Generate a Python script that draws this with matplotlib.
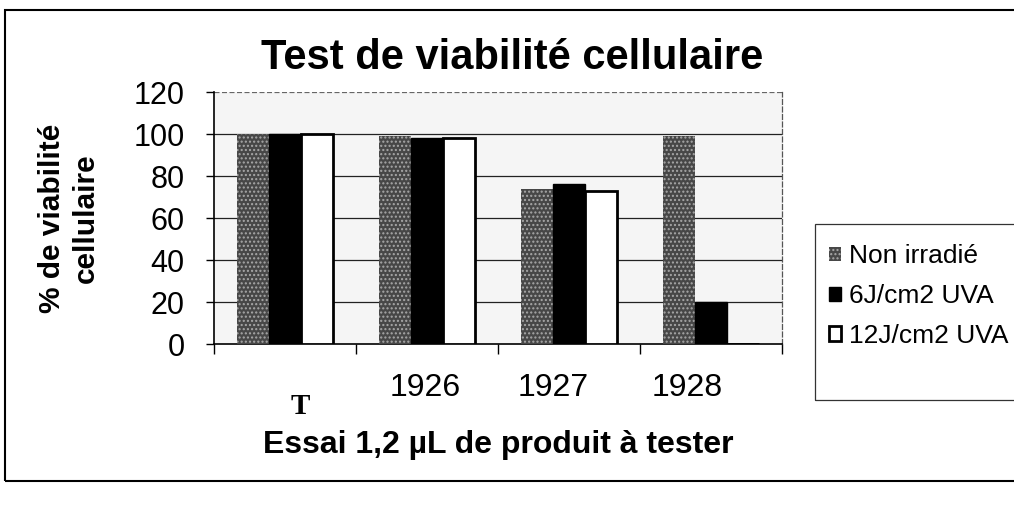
import numpy as np
import matplotlib
matplotlib.use("Agg")
import matplotlib.pyplot as plt
from matplotlib.patches import Rectangle
import matplotlib.transforms as mtransforms

# ---- data ----
categories = ["T", "1926", "1927", "1928"]
series_names = ["Non irradié", "6J/cm2 UVA", "12J/cm2 UVA"]
non_irradie = [100, 99, 74, 99]
uva_6 = [100, 98, 76, 20]
uva_12 = [100, 98, 73, 0]
y_ticks = [0, 20, 40, 60, 80, 100, 120]
title = "Test de viabilité cellulaire"
xlabel = "Essai 1,2 µL de produit à tester"
ylabel = "% de viabilité\ncellulaire"

# ---- layout ----
W, H = 1014, 507
fig = plt.figure(figsize=(W / 100, H / 100), dpi=100)
fig.patch.set_facecolor("white")

def fx(px):
    return px / W

def fy(py):
    return 1 - py / H

ax_l, ax_r, ax_t, ax_b = 214, 782, 92, 344
ax = fig.add_axes([fx(ax_l), fy(ax_b), fx(ax_r) - fx(ax_l), fy(ax_t) - fy(ax_b)])
ax.set_facecolor("#f5f5f5")

x = np.arange(len(categories))
w = 0.224
b1 = ax.bar(x - w, non_irradie, w, color="#474747", edgecolor="#a8a8a8",
            hatch="....", linewidth=0, zorder=3, label=series_names[0])
b2 = ax.bar(x, uva_6, w, color="black", edgecolor="black", linewidth=1,
            zorder=3, label=series_names[1])
b3 = ax.bar(x + w, uva_12, w, color="white", edgecolor="black", linewidth=2,
            zorder=3, label=series_names[2])

ax.set_xlim(-0.5, len(categories) - 0.5)
ax.set_ylim(0, 120)
ax.set_yticks(y_ticks)
ax.set_yticklabels([str(v) for v in y_ticks], fontsize=22, family="Liberation Sans")
for v in y_ticks[1:-1]:
    ax.axhline(v, color="#222222", linewidth=0.9, zorder=1)
ax.axhline(120, color="#666666", linewidth=0.9, linestyle=(0, (4, 2)), zorder=1)

# x tick labels (label centres slightly shifted as in the original)
label_shift = [0.0, -0.01, -0.11, -0.17]
ax.set_xticks(x[1:] + np.array(label_shift[1:]))
ax.set_xticklabels(categories[1:], fontsize=23, family="Liberation Sans")
ax.tick_params(axis="x", which="major", length=0, pad=21)
ax.set_xticks(np.arange(-0.5, len(categories), 1.0), minor=True)
ax.tick_params(axis="x", which="minor", length=7, width=1, direction="out")
ax.tick_params(axis="y", length=6, width=1, direction="out", pad=15)

trans = mtransforms.blended_transform_factory(ax.transData, fig.transFigure)
ax.text(x[0] + 0.11, fy(407), categories[0], transform=trans, ha="center",
        va="center", fontsize=21, fontweight="bold", family="Liberation Serif")

for s in ["left", "bottom"]:
    ax.spines[s].set_color("black")
    ax.spines[s].set_linewidth(1.2)
ax.spines["top"].set_visible(False)
ax.spines["right"].set_color("#555555")
ax.spines["right"].set_linestyle((0, (4, 2)))
ax.spines["right"].set_linewidth(0.9)

fig.text(fx(512), fy(58), title, ha="center", va="center", fontsize=30,
         fontweight="bold", family="Liberation Sans")
fig.text(fx(498), fy(445), xlabel, ha="center", va="center", fontsize=23,
         fontweight="bold", family="Liberation Sans")
fig.text(fx(69), fy(218), ylabel, ha="center", va="center", rotation=90,
         fontsize=21.5, fontweight="bold", family="Liberation Sans",
         multialignment="center", linespacing=1.3)

# legend
fig.patches.append(Rectangle((fx(815), fy(400)), fx(230), fy(224) - fy(400),
                             transform=fig.transFigure, fill=False,
                             edgecolor="#333333", linewidth=0.9, zorder=5))
leg = fig.legend(handles=[b1, b2, b3], labels=series_names, loc="upper left",
                 bbox_to_anchor=(fx(824), fy(239)), frameon=False,
                 prop={"family": "Liberation Sans", "size": 19},
                 handlelength=0.45, handleheight=0.45, handletextpad=0.3,
                 labelspacing=0.6, borderaxespad=0, borderpad=0.2)

# outer chart border
fig.patches.append(Rectangle((fx(5), fy(481)), fx(1100), fy(10) - fy(481),
                             transform=fig.transFigure, fill=False,
                             edgecolor="black", linewidth=1.5, zorder=5))

fig.savefig("out.png", dpi=100)
